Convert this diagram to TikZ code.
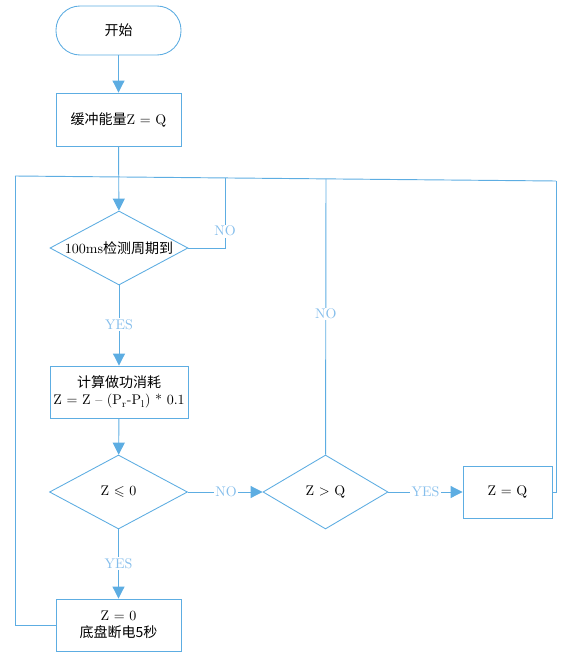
\documentclass[tikz,border=0pt]{standalone}
\usepackage{fontspec}
\usepackage{amssymb}
\newfontfamily\cjk{Noto Sans CJK SC}
\usetikzlibrary{arrows.meta,positioning,shapes.geometric}
\definecolor{flowline}{RGB}{93,173,226}
\definecolor{flowlabel}{RGB}{133,190,236}
\tikzset{
  process/.style={draw=flowline, line width=0.65pt, align=center, fill=white,
    font=\fontsize{10.5}{13}\selectfont, inner sep=2pt},
  terminal/.style={process, rounded corners=18pt, minimum width=93.75pt, minimum height=36.75pt},
  decision/.style={process, diamond, aspect=1.8, inner sep=0pt},
  arr/.style={-{Triangle[length=9pt,width=9pt]}, flowline, line width=0.7pt},
  link/.style={flowline, line width=0.7pt},
  yesno/.style={fill=white, text=flowlabel, font=\fontsize{10.5}{13}\selectfont, inner sep=1pt}
}
\begin{document}
\begin{tikzpicture}[x=0.75pt, y=-0.75pt]
  \useasboundingbox (0,0) rectangle (571,656);

  \node[terminal] (start) at (118.5,30.5) {{\cjk 开始}};
  \node[process, minimum width=93.75pt, minimum height=39.75pt] (buffer) at (118.5,119.5) {{\cjk 缓冲能量}Z = Q};
  \node[decision, minimum width=103.5pt, minimum height=55.5pt] (timer) at (119,248) {100ms{\cjk 检测周期到}};
  \node[process, minimum width=103.5pt, minimum height=39pt] (power) at (119,392)
    {{\cjk 计算做功消耗}\\Z = Z -- (P\textsubscript{r}-P\textsubscript{l}) * 0.1};
  \node[decision, minimum width=103.5pt, minimum height=55.5pt] (empty) at (118.5,492) {Z $\leqslant$ 0};
  \node[decision, minimum width=93.75pt, minimum height=55.5pt] (over) at (325.5,492) {Z > Q};
  \node[process, minimum width=66.75pt, minimum height=39pt] (clamp) at (507.5,492) {Z = Q};
  \node[process, minimum width=93.75pt, minimum height=39pt] (cut) at (118.5,625) {Z = 0\\{\cjk 底盘断电5秒}};

  % return line at the top
  \coordinate (tl) at (15,176);
  \coordinate (tr) at (556,181);
  \coordinate (j1) at (225,177.9);
  \coordinate (j2) at (326,178.9);
  \draw[link] (tl) -- (tr);

  \draw[arr] (start) -- (buffer);
  \draw[arr] (buffer) -- (timer);
  \draw[link] (timer.east) -| node[yesno, pos=0.62] {NO} (j1);
  \draw[arr] (timer) -- node[yesno, pos=0.49] {YES} (power);
  \draw[arr] (power) -- (empty);
  \draw[arr] (empty) -- node[yesno, pos=0.51] {NO} (over);
  \draw[link] (over) -- node[yesno, pos=0.51] {NO} (j2);
  \draw[arr] (over) -- node[yesno, pos=0.5] {YES} (clamp);
  \draw[link] (clamp.east) -| (tr);
  \draw[arr] (empty) -- node[yesno, pos=0.49] {YES} (cut);
  \draw[link] (cut.west) -| (tl);
\end{tikzpicture}
\end{document}
